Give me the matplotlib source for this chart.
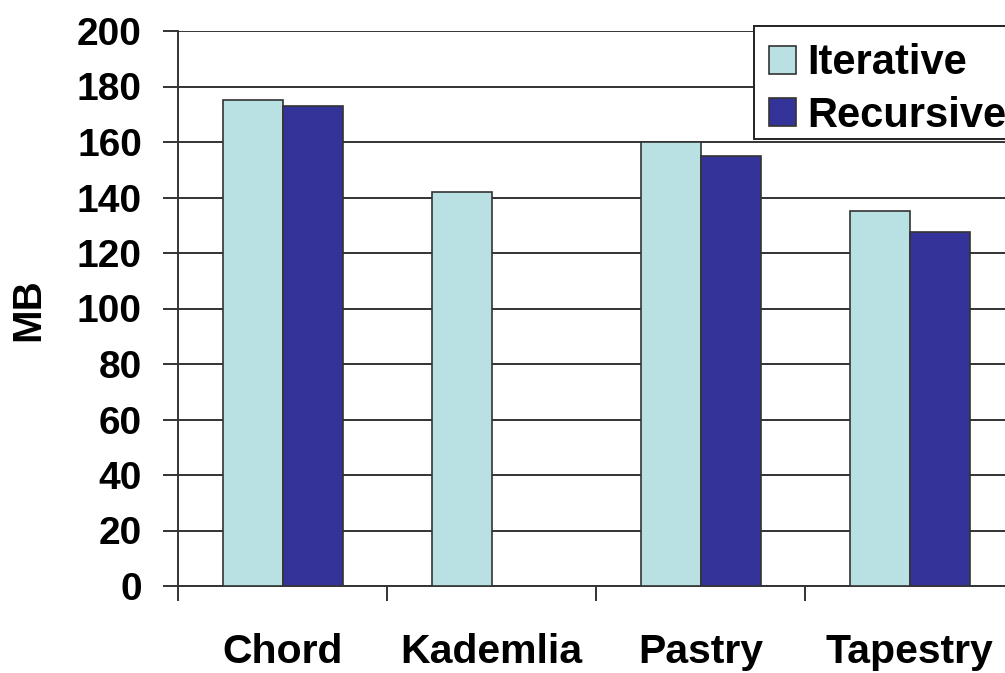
import matplotlib
matplotlib.use("Agg")
import matplotlib.pyplot as plt
import numpy as np
from matplotlib.ticker import FixedLocator
from matplotlib.patches import Rectangle

categories = ["Chord", "Kademlia", "Pastry", "Tapestry"]
iterative = [175, 142, 160, 135]
recursive = [173, None, 155, 127.5]
yticks = [0, 20, 40, 60, 80, 100, 120, 140, 160, 180, 200]

plt.rcParams['font.family'] = ['Liberation Sans', 'DejaVu Sans']
plt.rcParams['font.weight'] = 'bold'

W, H = 1005, 673
fig = plt.figure(figsize=(W / 100, H / 100), dpi=100)
ax = fig.add_axes([178 / W, 1 - 586 / H, 836 / W, 555 / H])

lc = '#333333'
bw = 60 / 209
x = np.arange(len(categories))
ax.bar(x - bw / 2, iterative, width=bw, color='#B9E1E4', edgecolor=lc,
       linewidth=1.2, label='Iterative', zorder=3)
rx = [xi + bw / 2 for xi, v in zip(x, recursive) if v is not None]
rv = [v for v in recursive if v is not None]
ax.bar(rx, rv, width=bw, color='#333399', edgecolor=lc, linewidth=1.2,
       label='Recursive', zorder=3)

ax.set_xlim(-0.5, len(categories) - 0.5)
ax.set_ylim(0, 200)
ax.set_yticks(yticks)
ax.set_yticklabels([str(t) for t in yticks], fontsize=28, fontweight='bold')
ax.yaxis.grid(True, color=lc, linewidth=1.4, zorder=0)
ax.set_axisbelow(True)

ax.set_xticks(x)
ax.set_xticklabels(categories, fontsize=29.5, fontweight='bold')
ax.xaxis.set_minor_locator(FixedLocator(np.arange(-0.5, len(categories), 1.0)))
ax.tick_params(axis='x', which='major', length=0, pad=34)
ax.tick_params(axis='x', which='minor', length=10.5, width=1.4, color=lc, direction='out')
ax.tick_params(axis='y', which='major', length=11, width=1.4, color=lc, direction='out', pad=15)

for s in ['top', 'right']:
    ax.spines[s].set_visible(False)
for s in ['left', 'bottom']:
    ax.spines[s].set_color(lc)
    ax.spines[s].set_linewidth(1.4)

fig.text(28 / W, 1 - 310 / H, 'MB', rotation=90, fontsize=29, fontweight='bold',
         ha='center', va='center')

# legend frame (extends past the right edge, as in the reference)
frame = Rectangle((754 / W, 1 - 139 / H), 300 / W, 113 / H, transform=fig.transFigure,
                  facecolor='white', edgecolor='#222222', linewidth=1.4, zorder=4)
fig.patches.append(frame)

leg = fig.legend(loc='upper left', bbox_to_anchor=(751 / W, 1 - 26 / H),
                 bbox_transform=fig.transFigure, fontsize=30, frameon=False,
                 handlelength=0.65, handleheight=0.65, handletextpad=0.27,
                 borderpad=0.42, labelspacing=0.3, borderaxespad=0)
leg.set_zorder(5)
for t in leg.get_texts():
    t.set_fontweight('bold')

fig.savefig('out.png', dpi=100)
